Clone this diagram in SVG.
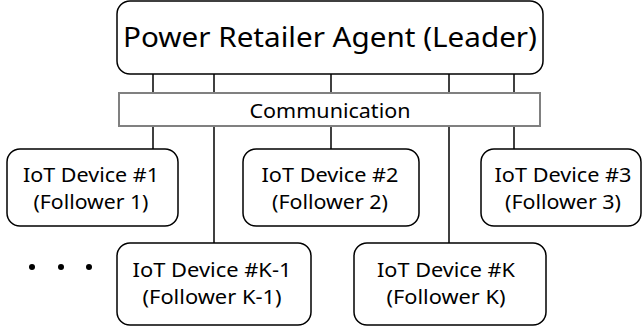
<svg xmlns="http://www.w3.org/2000/svg" width="642" height="329" viewBox="0 0 642 329">
<style>
.box{fill:#fff;stroke:#000;stroke-width:1.5}
.comm{fill:#fff;stroke:#808080;stroke-width:2}
.ln{stroke:#000;stroke-width:1.5;fill:none}
text{font-family:"Noto Sans","Open Sans","DejaVu Sans",sans-serif;fill:#000;text-anchor:middle}
.big{font-size:28px}
.mid{font-size:19px}
.dev{font-size:20.5px}
</style>
<rect width="642" height="329" fill="#fff"/>
<g id="connectors">
<line class="ln" x1="153" y1="74" x2="153" y2="149"/>
<line class="ln" x1="214" y1="74" x2="214" y2="243"/>
<line class="ln" x1="331" y1="74" x2="331" y2="149"/>
<line class="ln" x1="449" y1="74" x2="449" y2="243"/>
<line class="ln" x1="514" y1="74" x2="514" y2="149"/>
</g>
<g id="leader">
<rect class="box" x="117" y="1" width="426" height="73" rx="13"/>
<text class="big" x="330" y="47" textLength="414" lengthAdjust="spacingAndGlyphs">Power Retailer Agent (Leader)</text>
</g>
<g id="communication">
<rect class="comm" x="119" y="93" width="421" height="33"/>
<text class="mid" x="330" y="118" textLength="161" lengthAdjust="spacingAndGlyphs">Communication</text>
</g>
<g id="device1">
<rect class="box" x="7" y="149" width="171" height="77" rx="13"/>
<text class="dev" x="91" y="182" textLength="136" lengthAdjust="spacingAndGlyphs">IoT Device #1</text>
<text class="dev" x="91" y="209" textLength="115" lengthAdjust="spacingAndGlyphs">(Follower 1)</text>
</g>
<g id="device2">
<rect class="box" x="243" y="149" width="176" height="77" rx="13"/>
<text class="dev" x="330" y="182" textLength="137" lengthAdjust="spacingAndGlyphs">IoT Device #2</text>
<text class="dev" x="330" y="209" textLength="116" lengthAdjust="spacingAndGlyphs">(Follower 2)</text>
</g>
<g id="device3">
<rect class="box" x="481" y="149" width="160" height="77" rx="13"/>
<text class="dev" x="563" y="182" textLength="137" lengthAdjust="spacingAndGlyphs">IoT Device #3</text>
<text class="dev" x="563" y="209" textLength="116" lengthAdjust="spacingAndGlyphs">(Follower 3)</text>
</g>
<g id="deviceK-1">
<rect class="box" x="117" y="243" width="194" height="82" rx="13"/>
<text class="dev" x="212" y="277" textLength="159" lengthAdjust="spacingAndGlyphs">IoT Device #K-1</text>
<text class="dev" x="212" y="304" textLength="139" lengthAdjust="spacingAndGlyphs">(Follower K-1)</text>
</g>
<g id="deviceK">
<rect class="box" x="354" y="243" width="192" height="82" rx="13"/>
<text class="dev" x="446" y="277" textLength="138" lengthAdjust="spacingAndGlyphs">IoT Device #K</text>
<text class="dev" x="446" y="304" textLength="119" lengthAdjust="spacingAndGlyphs">(Follower K)</text>
</g>
<g id="ellipsis">
<circle cx="32" cy="267" r="3"/>
<circle cx="61" cy="267" r="3"/>
<circle cx="89" cy="267" r="3"/>
</g>
</svg>
